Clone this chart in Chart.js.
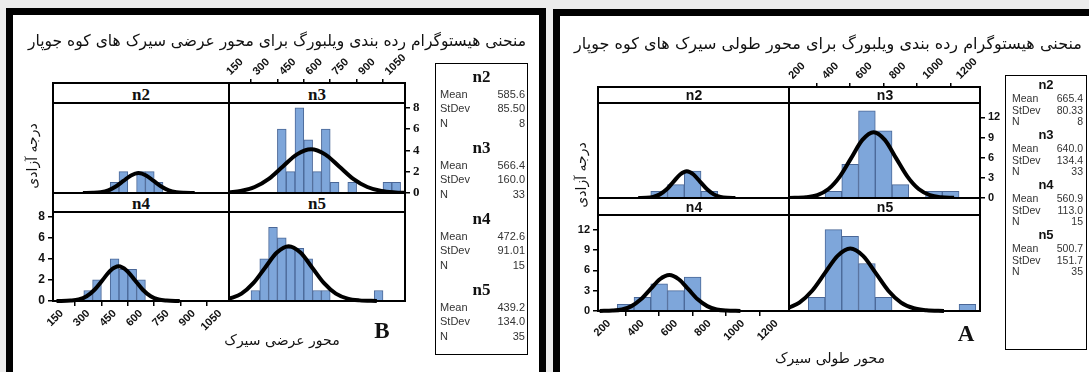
<!DOCTYPE html>
<html lang="fa">
<head>
<meta charset="utf-8">
<title>Wilborg histograms</title>
<script src="https://cdn.jsdelivr.net/npm/chart.js@4.4.1/dist/chart.umd.min.js"></script>
<style>
  html, body { margin: 0; padding: 0; }
  body { width: 1089px; height: 372px; position: relative; overflow: hidden; background: #ececec;
         font-family: "Liberation Sans", Arial, sans-serif; }
  .frame { position: absolute; background: #fff; border: 7px solid #000; box-sizing: border-box; z-index: 0; }
  canvas { position: absolute; z-index: 1; }
  .strip { position: absolute; background: #fff; z-index: 2; }
  .line { position: absolute; background: #000; z-index: 3; }
  .txt { position: absolute; z-index: 4; white-space: nowrap; line-height: 1; }
  .fa { font-family: "DejaVu Sans", sans-serif; direction: rtl; color: #111; }
  .legend { position: absolute; border: 1.5px solid #000; box-sizing: border-box; z-index: 3; }
</style>
</head>
<body>
<div class="frame" style="left:6px;top:8px;width:540px;height:372px"></div>
<div class="frame" style="left:553px;top:9px;width:545px;height:372px"></div>

<script>
// ---------- panel B : width axis ----------
const bXTicks = [150, 300, 450, 600, 750, 900, 1050];
const bYTicks = [0, 2, 4, 6, 8];

const bN2Bins = [450, 500, 550, 600, 650, 700];
const bN2Counts = [1, 2, 0, 2, 2, 1];
const bN3Bins = [400, 450, 500, 550, 600, 650, 700, 750, 800, 850, 900, 950, 1000, 1050];
const bN3Counts = [6, 2, 8, 5, 2, 6, 1, 0, 1, 0, 0, 0, 1, 1];
const bN4Bins = [300, 350, 400, 450, 500, 550, 600];
const bN4Counts = [1, 2, 0, 4, 3, 3, 2];
const bN5Bins = [250, 300, 350, 400, 450, 500, 550, 600, 650, 700, 750, 800, 850, 900, 950];
const bN5Counts = [1, 4, 7, 6, 5, 5, 4, 1, 1, 0, 0, 0, 0, 0, 1];

// fitted curves
const bN2CurveX = [270, 328, 371, 414, 457, 500, 543, 586, 629, 672, 715, 758, 801, 844, 905];
const bN2CurveY = [0, 0.02, 0.08, 0.25, 0.61, 1.13, 1.65, 1.87, 1.65, 1.13, 0.61, 0.25, 0.08, 0.02, 0];
const bN3CurveX = [100, 166, 246, 326, 406, 486, 566, 646, 726, 806, 886, 966, 1046, 1100];
const bN3CurveY = [0.06, 0.18, 0.56, 1.33, 2.49, 3.63, 4.11, 3.63, 2.49, 1.33, 0.56, 0.18, 0.05, 0.02];
const bN4CurveX = [120, 200, 246, 291, 336, 382, 427, 473, 518, 564, 610, 655, 700, 746, 820];
const bN4CurveY = [0, 0.04, 0.14, 0.45, 1.07, 2.0, 2.9, 3.29, 2.9, 2.0, 1.07, 0.45, 0.14, 0.04, 0];
const bN5CurveX = [100, 171, 238, 305, 372, 439, 506, 573, 640, 707, 774, 841, 940];
const bN5CurveY = [0.21, 0.70, 1.69, 3.16, 4.60, 5.21, 4.60, 3.16, 1.69, 0.70, 0.23, 0.06, 0];

const bNames = ['n2', 'n3', 'n4', 'n5'];
const bMeans = ['585.6', '566.4', '472.6', '439.2'];
const bStDevs = ['85.50', '160.0', '91.01', '134.0'];
const bN = ['8', '33', '15', '35'];

// ---------- panel A : length axis ----------
const aXTicks = [200, 400, 600, 800, 1000, 1200];
const aYTicks = [0, 3, 6, 9, 12];

const aN2Bins = [500, 600, 700, 800];
const aN2Counts = [1, 2, 4, 1];
const aN3Bins = [400, 500, 600, 700, 800, 900, 1000, 1100];
const aN3Counts = [1, 5, 13, 10, 2, 0, 1, 1];
const aN4Bins = [300, 400, 500, 600, 700];
const aN4Counts = [1, 2, 4, 3, 5];
const aN5Bins = [300, 400, 500, 600, 700, 800, 900, 1000, 1100, 1200];
const aN5Counts = [2, 12, 11, 7, 2, 0, 0, 0, 0, 1];

const aN2CurveX = [375, 424, 464, 504, 545, 585, 625, 665, 705, 745, 786, 826, 866, 906, 955];
const aN2CurveY = [0.01, 0.04, 0.17, 0.54, 1.29, 2.41, 3.50, 3.97, 3.50, 2.41, 1.29, 0.54, 0.17, 0.04, 0.01];
const aN3CurveX = [135, 237, 304, 371, 438, 506, 573, 640, 707, 774, 842, 909, 976, 1043, 1120];
const aN3CurveY = [0.01, 0.11, 0.43, 1.33, 3.18, 5.94, 8.65, 9.8, 8.65, 5.94, 3.18, 1.33, 0.43, 0.11, 0.02];
const aN4CurveX = [145, 222, 278, 335, 391, 448, 504, 561, 617, 674, 730, 787, 843, 900, 985];
const aN4CurveY = [0.01, 0.06, 0.23, 0.72, 1.72, 3.21, 4.68, 5.3, 4.68, 3.21, 1.72, 0.72, 0.23, 0.06, 0.01];
const aN5CurveX = [135, 197, 273, 349, 425, 501, 577, 653, 728, 804, 880, 956, 1060];
const aN5CurveY = [0.49, 1.24, 2.99, 5.58, 8.12, 9.2, 8.12, 5.58, 2.99, 1.24, 0.40, 0.10, 0.01];

const aNames = ['n2', 'n3', 'n4', 'n5'];
const aMeans = ['665.4', '640.0', '560.9', '500.7'];
const aStDevs = ['80.33', '134.4', '113.0', '151.7'];
const aN = ['8', '33', '15', '35'];

// ---------- helpers ----------
const PAD = 4;

function el(cls, css, text) {
    const d = document.createElement('div');
    d.className = cls;
    d.style.cssText = css;
    if (text !== undefined) d.textContent = text;
    document.body.appendChild(d);
    return d;
}

// text centred (anchor 'c'), left anchored ('l') or right anchored ('r') on x, centred on y
function txt(x, y, text, css, anchor) {
    const tx = anchor === 'l' ? '0' : anchor === 'r' ? '-100%' : '-50%';
    return el('txt', `left:${x}px;top:${y}px;transform:translate(${tx},-50%);` + (css || ''), text);
}

function hline(x1, x2, y) { el('line', `left:${x1 - 1}px;top:${y - 1}px;width:${x2 - x1 + 2}px;height:2px`); }
function vline(x, y1, y2) { el('line', `left:${x - 1}px;top:${y1 - 1}px;width:2px;height:${y2 - y1 + 2}px`); }

function subplot(o) {
    const L = o.left || 0, R = o.right || 0, T = o.top || 0, B = o.bottom || 0;
    const w = o.x2 - o.x1, h = o.y2 - o.y1;
    const cv = document.createElement('canvas');
    cv.width = w + L + R + 2 * PAD;
    cv.height = h + T + B + 2 * PAD;
    cv.style.left = (o.x1 - L - PAD) + 'px';
    cv.style.top = (o.y1 - T - PAD) + 'px';
    document.body.appendChild(cv);

    return new Chart(cv, {
        type: 'bar',
        data: {
            datasets: [{
                type: 'line',
                data: o.cx.map((x, i) => ({ x: x, y: o.cy[i] })),
                borderColor: '#000',
                borderWidth: 4,
                pointRadius: 0,
                cubicInterpolationMode: 'monotone',
                fill: false,
                clip: false,
                order: 0
            }, {
                type: 'bar',
                data: o.bins.map((x, i) => ({ x: x, y: o.counts[i] })),
                backgroundColor: '#7ea6da',
                borderColor: '#4a6797',
                borderWidth: 1,
                barPercentage: 1,
                categoryPercentage: 1,
                order: 1
            }]
        },
        options: {
            responsive: false,
            animation: false,
            events: [],
            layout: { padding: PAD },
            plugins: { legend: { display: false }, tooltip: { enabled: false } },
            scales: {
                x: {
                    type: 'linear', min: o.xMin, max: o.xMax, offset: false,
                    position: T ? 'top' : 'bottom',
                    display: !!(T || B),
                    afterBuildTicks: s => { s.ticks = o.xTicks.map(v => ({ value: v })); },
                    afterFit: s => { s.height = T || B; s.paddingLeft = 0; s.paddingRight = 0; },
                    grid: { drawOnChartArea: false, color: '#000', lineWidth: 1.5, tickLength: o.xTickLen || 5 },
                    border: { display: false },
                    ticks: { display: !!(T || B), autoSkip: false, minRotation: 45, maxRotation: 45,
                             padding: 1, color: '#111', font: o.xFont, callback: v => String(v) }
                },
                y: {
                    type: 'linear', min: 0, max: o.yMax,
                    position: R ? 'right' : 'left',
                    display: !!(L || R),
                    afterBuildTicks: s => { s.ticks = o.yTicks.map(v => ({ value: v })); },
                    afterFit: s => { s.width = L || R; s.paddingTop = 0; s.paddingBottom = 0; },
                    grid: { drawOnChartArea: false, color: '#000', lineWidth: 1.5, tickLength: 5 },
                    border: { display: false },
                    ticks: { display: !!(L || R), padding: 3, color: '#111', font: o.yFont, callback: v => String(v) }
                }
            }
        }
    });
}

function legend(x1, x2, y1, y2, names, means, sds, ns, g) {
    el('legend', `left:${x1}px;top:${y1}px;width:${x2 - x1}px;height:${y2 - y1}px`);
    names.forEach((n, i) => {
        const y = g.first + i * g.step;
        txt((x1 + x2) / 2, y, n, g.headCss);
        [['Mean', means[i]], ['StDev', sds[i]], ['N', ns[i]]].forEach((row, j) => {
            const yy = y + g.rows[j];
            txt(g.lx, yy, row[0], g.rowCss, 'l');
            txt(g.rx, yy, row[1], g.rowCss, 'r');
        });
    });
}

// ---------- panel B layout ----------
const bFontX = { family: 'Liberation Sans', size: 11, weight: 'bold' };
const bCommon = { xMin: 100, xMax: 1100, yMax: 8.45, xTicks: bXTicks, yTicks: bYTicks, xFont: bFontX };

subplot({ ...bCommon, x1: 53, x2: 229, y1: 103, y2: 193, bins: bN2Bins, counts: bN2Counts, cx: bN2CurveX, cy: bN2CurveY });
subplot({ ...bCommon, x1: 229, x2: 405, y1: 103, y2: 193, bins: bN3Bins, counts: bN3Counts, cx: bN3CurveX, cy: bN3CurveY,
          top: 56, xTickLen: 24, right: 30, yFont: { family: 'Liberation Serif', size: 13, weight: 'bold' } });
subplot({ ...bCommon, x1: 53, x2: 229, y1: 212, y2: 301, bins: bN4Bins, counts: bN4Counts, cx: bN4CurveX, cy: bN4CurveY,
          bottom: 40, left: 22, yFont: { family: 'Liberation Sans', size: 12, weight: 'bold' } });
subplot({ ...bCommon, x1: 229, x2: 405, y1: 212, y2: 301, bins: bN5Bins, counts: bN5Counts, cx: bN5CurveX, cy: bN5CurveY });

const bStrip = 'font-family:"Liberation Serif",serif;font-weight:bold;font-size:17px;color:#111';
el('strip', 'left:53px;top:83px;width:352px;height:20px');
el('strip', 'left:53px;top:193px;width:352px;height:19px');
txt(141, 94, 'n2', bStrip); txt(317, 94, 'n3', bStrip);
txt(141, 203, 'n4', bStrip); txt(317, 203, 'n5', bStrip);
hline(53, 405, 83); hline(53, 405, 103); hline(53, 405, 193); hline(53, 405, 212); hline(53, 405, 301);
vline(53, 83, 301); vline(229, 83, 301); vline(405, 83, 301);

txt(277, 41, 'منحنی هیستوگرام رده بندی ویلبورگ برای محور عرضی سیرک های کوه جوپار', 'font-size:16px', 'c').dataset.fit = 498;
txt(32, 156, 'درجه آزادی', 'font-size:14px;transform:translate(-50%,-50%) rotate(-90deg)').className += ' fa';
txt(282, 340, 'محور عرضی سیرک', 'font-size:14px').className += ' fa';
txt(382, 330, 'B', 'font-family:"Liberation Serif",serif;font-weight:bold;font-size:23px;color:#111');

legend(435, 528, 63, 355, bNames, bMeans, bStDevs, bN, {
    first: 76, step: 71, rows: [18, 32, 47], lx: 440, rx: 525,
    headCss: 'font-family:"Liberation Serif",serif;font-weight:bold;font-size:17px;color:#111',
    rowCss: 'font-size:11px;color:#333'
});

// ---------- panel A layout ----------
const aFontX = { family: 'Liberation Sans', size: 11, weight: 'bold' };
const aFontY = { family: 'Liberation Sans', size: 11, weight: 'bold' };
const aCommon = { xMin: 135, xMax: 1275, yMax: 14.15, xTicks: aXTicks, yTicks: aYTicks, xFont: aFontX, yFont: aFontY };

subplot({ ...aCommon, x1: 598, x2: 789, y1: 103, y2: 198, bins: aN2Bins, counts: aN2Counts, cx: aN2CurveX, cy: aN2CurveY });
subplot({ ...aCommon, x1: 789, x2: 980, y1: 103, y2: 198, bins: aN3Bins, counts: aN3Counts, cx: aN3CurveX, cy: aN3CurveY,
          top: 52, xTickLen: 20, right: 26 });
subplot({ ...aCommon, x1: 598, x2: 789, y1: 215, y2: 311, bins: aN4Bins, counts: aN4Counts, cx: aN4CurveX, cy: aN4CurveY,
          bottom: 40, left: 24 });
subplot({ ...aCommon, x1: 789, x2: 980, y1: 215, y2: 311, bins: aN5Bins, counts: aN5Counts, cx: aN5CurveX, cy: aN5CurveY });

const aStrip = 'font-family:"Liberation Sans",sans-serif;font-weight:bold;font-size:14px;color:#111';
el('strip', 'left:598px;top:87px;width:382px;height:16px');
el('strip', 'left:598px;top:198px;width:382px;height:17px');
txt(694, 95, 'n2', aStrip); txt(885, 95, 'n3', aStrip);
txt(694, 207, 'n4', aStrip); txt(885, 207, 'n5', aStrip);
hline(598, 980, 87); hline(598, 980, 103); hline(598, 980, 198); hline(598, 980, 215); hline(598, 980, 311);
vline(598, 87, 311); vline(789, 87, 311); vline(980, 87, 311);

txt(828, 44, 'منحنی هیستوگرام رده بندی ویلبورگ برای محور طولی سیرک های کوه جوپار', 'font-size:16px', 'c').dataset.fit = 508;
txt(581, 175, 'درجه آزادی', 'font-size:14px;transform:translate(-50%,-50%) rotate(-90deg)').className += ' fa';
txt(830, 358, 'محور طولی سیرک', 'font-size:14px').className += ' fa';
txt(966, 333, 'A', 'font-family:"Liberation Serif",serif;font-weight:bold;font-size:23px;color:#111');

legend(1005, 1087, 75, 350, aNames, aMeans, aStDevs, aN, {
    first: 84, step: 50, rows: [14, 25.5, 36.5], lx: 1012, rx: 1083,
    headCss: 'font-family:"Liberation Sans",sans-serif;font-weight:bold;font-size:13px;color:#111',
    rowCss: 'font-size:10.5px;color:#333'
});

// squeeze the Persian titles to the width they take in the original
document.querySelectorAll('[data-fit]').forEach(d => {
    d.classList.add('fa');
    const w = d.getBoundingClientRect().width;
    d.style.transform = `translate(-50%,-50%) scaleX(${(+d.dataset.fit / w).toFixed(3)})`;
});
</script>
</body>
</html>
